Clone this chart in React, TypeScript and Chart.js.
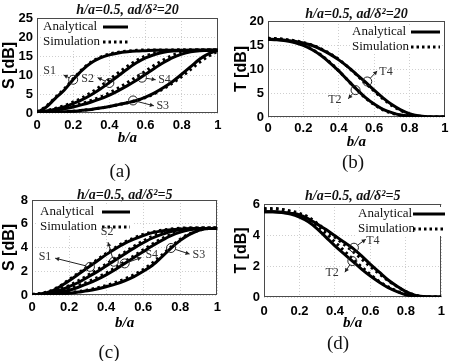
import React, { useEffect, useRef } from "react";
import { Chart, registerables } from "chart.js";
Chart.register(...registerables);

// ---------- data ----------
const bOverA = [0, 0.05, 0.1, 0.15, 0.2, 0.25, 0.3, 0.35, 0.4, 0.45, 0.5, 0.55, 0.6, 0.65, 0.7, 0.75, 0.8, 0.85, 0.9, 0.95, 1];
const xTickLabels = ["0", "0.2", "0.4", "0.6", "0.8", "1"];

// (a) h/a=0.5, ad/δ²=20 : S parameters
const aS1 = [0.2, 1.5, 3.8, 6.0, 8.8, 11.3, 13.2, 14.5, 15.3, 15.8, 16.1, 16.3, 16.4, 16.5, 16.5, 16.5, 16.5, 16.5, 16.5, 16.5, 16.5];
const aS2 = [0.2, 0.5, 1.0, 1.6, 2.5, 3.5, 4.8, 6.3, 8.0, 9.8, 11.6, 13.2, 14.5, 15.4, 16.0, 16.3, 16.4, 16.5, 16.5, 16.5, 16.5];
const aS4 = [0.2, 0.4, 0.7, 1.1, 1.6, 2.2, 2.9, 3.7, 4.7, 5.9, 7.2, 8.6, 10.2, 11.8, 13.3, 14.6, 15.5, 16.1, 16.4, 16.5, 16.5];
const aS3 = [0.1, 0.15, 0.2, 0.3, 0.45, 0.7, 0.95, 1.3, 1.7, 2.2, 2.7, 3.3, 4.2, 5.3, 6.7, 8.3, 10.2, 12.2, 14.2, 15.6, 16.5];
const aS1sim = [0.3, 1.7, 4.0, 6.3, 9.0, 11.5, 13.4, 14.7, 15.5, 16.0, 16.3, 16.5, 16.6, 16.6, 16.6, 16.6, 16.6, 16.6, 16.6, 16.6, 16.6];
const aS2sim = [0.2, 0.6, 1.2, 1.9, 2.9, 4.0, 5.4, 7.0, 8.8, 10.6, 12.3, 13.8, 15.0, 15.8, 16.3, 16.5, 16.6, 16.6, 16.6, 16.6, 16.6];
const aS4sim = [0.2, 0.4, 0.8, 1.2, 1.8, 2.5, 3.3, 4.2, 5.3, 6.6, 8.0, 9.5, 11.0, 12.6, 14.0, 15.2, 16.0, 16.4, 16.6, 16.6, 16.6];
const aS3sim = [0.1, 0.15, 0.2, 0.3, 0.45, 0.7, 0.95, 1.3, 1.7, 2.2, 2.7, 3.3, 4.1, 5.1, 6.4, 7.9, 9.6, 11.5, 13.4, 15.0, 16.3];

// (b) h/a=0.5, ad/δ²=20 : T parameters
const bT2 = [16.2, 16.1, 15.9, 15.5, 14.9, 14.0, 12.8, 11.3, 9.6, 7.7, 5.8, 4.1, 2.7, 1.6, 0.9, 0.4, 0.15, 0.05, 0, 0, 0];
const bT4 = [16.2, 16.15, 16.0, 15.8, 15.4, 14.9, 14.1, 13.1, 11.9, 10.5, 8.9, 7.3, 5.6, 4.0, 2.6, 1.5, 0.7, 0.25, 0.05, 0, 0];
const bT2sim = [16.4, 16.3, 16.1, 15.6, 15.0, 14.1, 12.9, 11.4, 9.6, 7.7, 5.8, 4.0, 2.6, 1.5, 0.8, 0.35, 0.12, 0.04, 0, 0, 0];
const bT4sim = [16.4, 16.3, 16.1, 15.9, 15.5, 15.0, 14.2, 13.2, 12.0, 10.5, 8.8, 7.1, 5.4, 3.8, 2.4, 1.35, 0.6, 0.2, 0.05, 0, 0];

// (c) h/a=0.5, ad/δ²=5 : S parameters
const cS1 = [0, 0.1, 0.3, 0.7, 1.2, 1.75, 2.3, 2.85, 3.4, 3.9, 4.35, 4.7, 5.0, 5.25, 5.4, 5.5, 5.55, 5.58, 5.6, 5.6, 5.6];
const cS2 = [0, 0.05, 0.2, 0.4, 0.7, 1.05, 1.5, 1.95, 2.45, 2.95, 3.45, 3.95, 4.4, 4.8, 5.1, 5.35, 5.5, 5.58, 5.6, 5.6, 5.6];
const cS4 = [0, 0.03, 0.1, 0.22, 0.4, 0.65, 0.95, 1.3, 1.7, 2.15, 2.65, 3.15, 3.65, 4.15, 4.6, 5.0, 5.3, 5.5, 5.6, 5.6, 5.6];
const cS3 = [0, 0.02, 0.05, 0.1, 0.15, 0.25, 0.35, 0.5, 0.7, 0.92, 1.2, 1.55, 2.0, 2.5, 3.2, 3.95, 4.6, 5.1, 5.45, 5.6, 5.6];
const cS1sim = [0.05, 0.15, 0.35, 0.75, 1.3, 1.85, 2.4, 2.95, 3.5, 4.0, 4.45, 4.8, 5.1, 5.3, 5.45, 5.55, 5.62, 5.65, 5.65, 5.65, 5.65];
const cS2sim = [0.05, 0.1, 0.25, 0.5, 0.8, 1.2, 1.65, 2.1, 2.6, 3.1, 3.6, 4.1, 4.55, 4.95, 5.25, 5.45, 5.58, 5.63, 5.65, 5.65, 5.65];
const cS4sim = [0.05, 0.08, 0.15, 0.3, 0.5, 0.8, 1.1, 1.45, 1.85, 2.3, 2.8, 3.3, 3.8, 4.3, 4.75, 5.1, 5.4, 5.55, 5.62, 5.65, 5.65];
const cS3sim = [0.05, 0.05, 0.08, 0.12, 0.2, 0.3, 0.42, 0.6, 0.8, 1.05, 1.35, 1.7, 2.15, 2.7, 3.35, 4.05, 4.7, 5.15, 5.45, 5.6, 5.65];

// (d) h/a=0.5, ad/δ²=5 : T parameters
const dT2 = [5.5, 5.5, 5.45, 5.35, 5.15, 4.85, 4.4, 3.85, 3.3, 2.8, 2.3, 1.8, 1.35, 0.95, 0.6, 0.35, 0.15, 0.05, 0, 0, 0];
const dT4 = [5.5, 5.5, 5.47, 5.4, 5.3, 5.05, 4.7, 4.35, 3.95, 3.55, 3.15, 2.65, 2.1, 1.6, 1.1, 0.7, 0.35, 0.12, 0.03, 0, 0];
const dT2sim = [5.7, 5.7, 5.65, 5.5, 5.3, 5.0, 4.6, 4.1, 3.55, 3.0, 2.45, 1.95, 1.45, 1.0, 0.65, 0.38, 0.18, 0.06, 0.01, 0, 0];
const dT4sim = [5.7, 5.7, 5.65, 5.55, 5.4, 5.15, 4.75, 4.3, 3.85, 3.4, 2.95, 2.45, 1.95, 1.5, 1.05, 0.68, 0.35, 0.13, 0.03, 0, 0];

// annotation markers: circle at (cx,cy), arrow to (ax,ay), label at (tx,ty) – data coordinates
type Ann = { label: string; cx: number; cy: number; ax: number; ay: number; tx: number; ty: number };
const annA: Ann[] = [
  { label: "S1", cx: 0.2, cy: 8.75, ax: 0.147, ay: 10.0, tx: 0.07, ty: 11.1 },
  { label: "S2", cx: 0.4, cy: 7.9, ax: 0.335, ay: 9.3, tx: 0.28, ty: 9.0 },
  { label: "S4", cx: 0.58, cy: 9.3, ax: 0.656, ay: 8.75, tx: 0.705, ty: 8.75 },
  { label: "S3", cx: 0.531, cy: 3.3, ax: 0.646, ay: 1.9, tx: 0.695, ty: 1.9 },
];
const annB: Ann[] = [
  { label: "T4", cx: 0.561, cy: 7.4, ax: 0.617, ay: 9.6, tx: 0.667, ty: 9.4 },
  { label: "T2", cx: 0.495, cy: 5.6, ax: 0.454, ay: 3.8, tx: 0.378, ty: 3.6 },
];
const annC: Ann[] = [
  { label: "S1", cx: 0.3125, cy: 2.37, ax: 0.125, ay: 3.1, tx: 0.07, ty: 3.2 },
  { label: "S2", cx: 0.441, cy: 2.8, ax: 0.41, ay: 4.45, tx: 0.405, ty: 5.35 },
  { label: "S4", cx: 0.5, cy: 2.66, ax: 0.59, ay: 3.15, tx: 0.646, ty: 3.38 },
  { label: "S3", cx: 0.75, cy: 3.96, ax: 0.85, ay: 3.45, tx: 0.9, ty: 3.38 },
];
const annD: Ann[] = [
  { label: "T4", cx: 0.507, cy: 3.18, ax: 0.574, ay: 3.72, tx: 0.614, ty: 3.61 },
  { label: "T2", cx: 0.498, cy: 2.32, ax: 0.456, ay: 1.6, tx: 0.384, ty: 1.56 },
];

// ---------- layout ----------
type Panel = {
  id: string;
  left: number; top: number; w: number; h: number;
  area: { l: number; r: number; t: number; b: number };
  title: string; titleY: number;
  yTitle: string; yTitleX: number; yMax: number; yStep: number;
  xTickPad: number; xTitleY: number;
  analytical: number[][]; simulation: number[][];
  ann: Ann[];
  legend: { x: number; y1: number; y2: number; l1: number; l2: number };
  caption: string; capX: number; capY: number;
};

const panels: Panel[] = [
  {
    id: "a", left: 0, top: 0, w: 226, h: 180,
    area: { l: 37, r: 219, t: 18, b: 113 },
    title: "h/a=0.5, ad/δ²=20", titleY: 10,
    yTitle: "S [dB]", yTitleX: 10, yMax: 25, yStep: 5,
    xTickPad: 4.5, xTitleY: 138,
    analytical: [aS1, aS2, aS4, aS3], simulation: [aS1sim, aS2sim, aS4sim, aS3sim],
    ann: annA,
    legend: { x: 43, y1: 27, y2: 42, l1: 103, l2: 128 },
    caption: "(a)", capX: 120, capY: 171,
  },
  {
    id: "b", left: 226, top: 0, w: 226, h: 180,
    area: { l: 42, r: 220, t: 21, b: 117 },
    title: "h/a=0.5, ad/δ²=20", titleY: 14,
    yTitle: "T [dB]", yTitleX: 15.5, yMax: 20, yStep: 5,
    xTickPad: 3.5, xTitleY: 142,
    analytical: [bT2, bT4], simulation: [bT2sim, bT4sim],
    ann: annB,
    legend: { x: 126, y1: 32, y2: 47, l1: 185, l2: 214 },
    caption: "(b)", capX: 127, capY: 162,
  },
  {
    id: "c", left: 0, top: 180, w: 226, h: 181,
    area: { l: 32, r: 218, t: 20, b: 115 },
    title: "h/a=0.5, ad/δ²=5", titleY: 15,
    yTitle: "S [dB]", yTitleX: 10, yMax: 8, yStep: 2,
    xTickPad: 5, xTitleY: 143,
    analytical: [cS1, cS2, cS4, cS3], simulation: [cS1sim, cS2sim, cS4sim, cS3sim],
    ann: annC,
    legend: { x: 40, y1: 32, y2: 47, l1: 102, l2: 130 },
    caption: "(c)", capX: 109, capY: 172,
  },
  {
    id: "d", left: 226, top: 180, w: 226, h: 181,
    area: { l: 38, r: 222, t: 24, b: 117 },
    title: "h/a=0.5, ad/δ²=5", titleY: 16.5,
    yTitle: "T [dB]", yTitleX: 15.5, yMax: 6, yStep: 2,
    xTickPad: 7, xTitleY: 143,
    analytical: [dT2, dT4], simulation: [dT2sim, dT4sim],
    ann: annD,
    legend: { x: 132, y1: 34, y2: 49, l1: 187, l2: 219 },
    caption: "(d)", capX: 112, capY: 163,
  },
];

const SERIF = "'Liberation Serif', 'Times New Roman', serif";
const SANS = "'Liberation Sans', Arial, sans-serif";

const decoPlugin = {
  id: "deco",
  beforeDatasetsDraw(chart: any, _args: any, opts: any) {
    const { ctx, chartArea: a } = chart;
    ctx.save();
    ctx.strokeStyle = "#4a4a4a";
    ctx.lineWidth = 1;
    ctx.strokeRect(Math.round(a.left) + 0.5, Math.round(a.top) + 0.5, Math.round(a.width) - 1, Math.round(a.height) - 1);
    const lg = opts.legend;
    ctx.fillStyle = "#fff";
    ctx.fillRect(lg.x - 2, lg.y1 - 7, lg.l2 - lg.x + 4, lg.y2 - lg.y1 + 14);
    ctx.restore();
  },
  afterDatasetsDraw(chart: any, _args: any, opts: any) {
    const { ctx } = chart;
    const xs = chart.scales.x;
    const ys = chart.scales.y;
    ctx.save();
    const lg = opts.legend;
    ctx.fillStyle = "#111";
    ctx.font = `13px ${SERIF}`;
    ctx.textAlign = "left";
    ctx.textBaseline = "middle";
    ctx.fillText("Analytical", lg.x, lg.y1);
    ctx.fillText("Simulation", lg.x, lg.y2);
    ctx.strokeStyle = "#000";
    ctx.lineWidth = 3;
    ctx.beginPath();
    ctx.moveTo(lg.l1, lg.y1);
    ctx.lineTo(lg.l2, lg.y1);
    ctx.stroke();
    ctx.setLineDash([2.5, 3]);
    ctx.beginPath();
    ctx.moveTo(lg.l1, lg.y2);
    ctx.lineTo(lg.l2, lg.y2);
    ctx.stroke();
    ctx.setLineDash([]);
    const r = 4.5;
    (opts.ann as Ann[]).forEach((an) => {
      const cx = xs.getPixelForValue(an.cx);
      const cy = ys.getPixelForValue(an.cy);
      const ax = xs.getPixelForValue(an.ax);
      const ay = ys.getPixelForValue(an.ay);
      const tx = xs.getPixelForValue(an.tx);
      const ty = ys.getPixelForValue(an.ty);
      ctx.strokeStyle = "#222";
      ctx.lineWidth = 1;
      ctx.beginPath();
      ctx.arc(cx, cy, r, 0, Math.PI * 2);
      ctx.stroke();
      const dx = ax - cx, dy = ay - cy;
      const len = Math.hypot(dx, dy) || 1;
      const ux = dx / len, uy = dy / len;
      ctx.beginPath();
      ctx.moveTo(cx + ux * r, cy + uy * r);
      ctx.lineTo(ax, ay);
      ctx.stroke();
      const hl = 4, hw = 2.2;
      ctx.fillStyle = "#222";
      ctx.beginPath();
      ctx.moveTo(ax, ay);
      ctx.lineTo(ax - ux * hl - uy * hw, ay - uy * hl + ux * hw);
      ctx.lineTo(ax - ux * hl + uy * hw, ay - uy * hl - ux * hw);
      ctx.closePath();
      ctx.fill();
      ctx.fillStyle = "#333";
      ctx.font = `12px ${SERIF}`;
      ctx.textAlign = "center";
      ctx.textBaseline = "middle";
      ctx.fillText(an.label, tx, ty);
    });
    ctx.restore();
  },
};

function PanelChart({ p }: { p: Panel }) {
  const ref = useRef<HTMLCanvasElement | null>(null);
  useEffect(() => {
    if (!ref.current) return;
    const { area, w, h } = p;
    const titleSize = 14;
    const titleLHf = 0.7;
    const titleLH = titleSize * titleLHf;
    const layoutTop = p.titleY - titleLH / 2;
    const titlePadBottom = Math.max(0, area.t - layoutTop - titleLH);
    const xTitleLH = 15 * 1.2;
    const datasets: any[] = [];
    p.analytical.forEach((arr, i) => {
      datasets.push({
        label: "Analytical " + i,
        data: bOverA.map((x, k) => ({ x, y: arr[k] })),
        borderColor: "#000",
        borderWidth: 3,
        pointRadius: 0,
        cubicInterpolationMode: "monotone",
        fill: false,
      });
    });
    p.simulation.forEach((arr, i) => {
      datasets.push({
        label: "Simulation " + i,
        data: bOverA.map((x, k) => ({ x, y: arr[k] })),
        borderColor: "#000",
        borderWidth: 3,
        borderDash: [2.5, 3.5],
        pointRadius: 0,
        cubicInterpolationMode: "monotone",
        fill: false,
      });
    });
    const chart = new Chart(ref.current, {
      type: "line",
      data: { datasets },
      plugins: [decoPlugin],
      options: {
        animation: false,
        responsive: false,
        devicePixelRatio: 1,
        layout: { padding: { left: 0, right: w - area.r, top: layoutTop, bottom: 0 } },
        plugins: {
          legend: { display: false },
          tooltip: { enabled: false },
          title: {
            display: true,
            text: p.title,
            fullSize: false,
            color: "#111",
            font: { family: SERIF, size: titleSize, style: "italic", weight: "bold", lineHeight: titleLHf },
            padding: { top: 0, bottom: titlePadBottom },
          },
          deco: { legend: p.legend, ann: p.ann },
        } as any,
        scales: {
          x: {
            type: "linear",
            min: 0,
            max: 1,
            afterFit: (s: any) => { s.height = h - area.b; },
            ticks: {
              stepSize: 0.2,
              padding: p.xTickPad,
              color: "#000",
              font: { family: SANS, size: 13, weight: "bold" },
              callback: (v: any) => xTickLabels[Math.round(Number(v) * 5)] ?? "",
              maxRotation: 0,
            },
            grid: { color: "#cfcfcf", lineWidth: 1, drawTicks: false },
            border: { display: false, dash: [1, 2] },
            title: {
              display: true,
              text: "b/a",
              color: "#000",
              font: { family: SERIF, size: 15, style: "italic", weight: "bold", lineHeight: 1.2 },
              padding: { top: 0, bottom: Math.max(0, h - p.xTitleY - xTitleLH / 2) },
            },
          },
          y: {
            type: "linear",
            min: 0,
            max: p.yMax,
            afterFit: (s: any) => { s.width = area.l; },
            ticks: {
              stepSize: p.yStep,
              padding: 4,
              color: "#000",
              font: { family: SANS, size: 13, weight: "bold" },
            },
            grid: { color: "#cfcfcf", lineWidth: 1, drawTicks: false },
            border: { display: false, dash: [1, 2] },
            title: {
              display: true,
              text: p.yTitle,
              color: "#000",
              font: { family: SANS, size: 16, weight: "bold", lineHeight: 1.2 },
              padding: { top: Math.max(0, p.yTitleX - 9.6), bottom: 0 },
            },
          },
        },
      } as any,
    });
    return () => chart.destroy();
  }, [p]);
  return (
    <>
      <canvas
        ref={ref}
        width={p.w}
        height={p.h}
        style={{ position: "absolute", left: p.left, top: p.top, width: p.w, height: p.h }}
      />
      <div
        style={{
          position: "absolute",
          left: p.left + p.capX - 30,
          top: p.top + p.capY - 12,
          width: 60,
          height: 24,
          lineHeight: "24px",
          textAlign: "center",
          fontFamily: SERIF,
          fontSize: 19,
          color: "#111",
        }}
      >
        {p.caption}
      </div>
    </>
  );
}

export default function App() {
  return (
    <div style={{ position: "absolute", left: 0, top: 0, width: 452, height: 361, background: "#fff", overflow: "hidden" }}>
      {panels.map((p) => (
        <PanelChart key={p.id} p={p} />
      ))}
    </div>
  );
}
